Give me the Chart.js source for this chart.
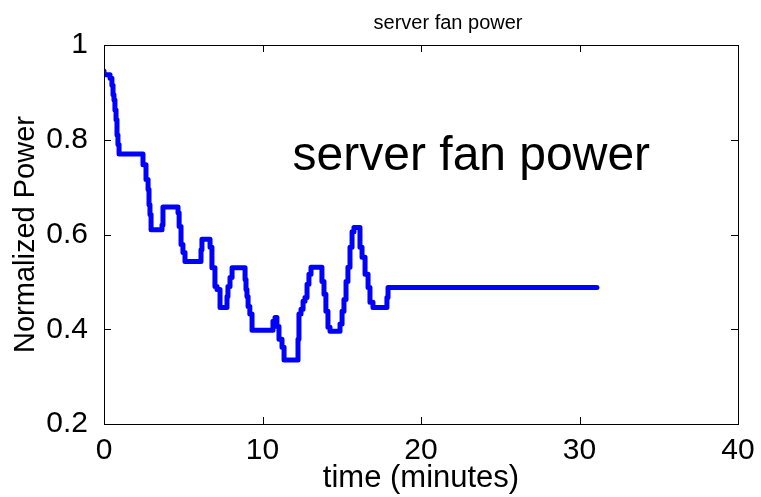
<!DOCTYPE html>
<html>
<head>
<meta charset="utf-8">
<script src="https://cdn.jsdelivr.net/npm/chart.js@4/dist/chart.umd.min.js"></script>
<style>
  html, body { margin: 0; padding: 0; background: #ffffff; }
  canvas { display: block; }
</style>
</head>
<body>
<canvas id="c" width="761" height="497"></canvas>
<script>
// ---- data ----
const chartTitle = "server fan power";
const annotationText = "server fan power";
const xAxisTitle = "time (minutes)";
const yAxisTitle = "Normalized Power";
const xTicks = [0, 10, 20, 30, 40];
const yTicks = [0.2, 0.4, 0.6, 0.8, 1];
const yTickLabels = ["0.2", "0.4", "0.6", "0.8", "1"];

const timeMinutes = [
  0, 0.38, 0.5, 0.57, 0.63, 0.69, 0.76, 0.82, 0.88, 0.95, 1.01,
  2.46, 2.65, 2.78, 2.84, 2.9, 2.97, 3.09,
  3.66, 3.72, 3.85,
  4.67, 4.74, 4.86, 4.98, 5.11, 5.24,
  6.12, 6.18, 6.31,
  6.69, 6.81, 7.0, 7.13, 7.32, 7.44,
  7.76, 7.82, 7.95, 8.08, 8.2,
  8.9, 8.96, 9.02, 9.09, 9.2, 9.34, 9.4,
  10.66, 10.79, 10.91, 11.04, 11.23, 11.36, 11.55,
  12.24, 12.3, 12.43, 12.56, 12.68, 12.81, 12.93, 13.06, 13.19,
  13.75, 13.88, 14.0, 14.13, 14.26, 14.38,
  14.89, 15.02, 15.14, 15.27, 15.39, 15.52, 15.65, 15.77, 15.9,
  16.15, 16.28, 16.47, 16.66, 16.78, 16.97, 17.1,
  17.85, 17.92, 18.04,
  25, 31.1
];
const normalizedPower = [
  0.945, 0.937, 0.93, 0.915, 0.895, 0.884, 0.863, 0.842, 0.81, 0.79, 0.77,
  0.77, 0.747, 0.716, 0.695, 0.663, 0.642, 0.61,
  0.61, 0.62, 0.658,
  0.658, 0.646, 0.617, 0.579, 0.562, 0.543,
  0.543, 0.568, 0.59,
  0.59, 0.573, 0.53, 0.49, 0.484, 0.446,
  0.446, 0.469, 0.49, 0.509, 0.53,
  0.53, 0.505, 0.484, 0.469, 0.448, 0.432, 0.398,
  0.398, 0.417, 0.425, 0.406, 0.379, 0.362, 0.335,
  0.335, 0.379, 0.432, 0.442, 0.459, 0.467, 0.495, 0.516, 0.531,
  0.531, 0.501, 0.474, 0.438, 0.404, 0.396,
  0.396, 0.411, 0.438, 0.463, 0.501, 0.531, 0.573, 0.606, 0.615,
  0.615, 0.573, 0.552, 0.516, 0.488, 0.457, 0.446,
  0.446, 0.467, 0.488,
  0.488, 0.488
];
// position of the in-plot text label (data units)
const annotationX = 11.9;
const annotationY = 0.765;

// ---- chart ----
const FONT = '"Liberation Sans", Arial, Helvetica, sans-serif';

const frameAndTexts = {
  id: 'frameAndTexts',
  afterDraw(chart) {
    const {ctx, chartArea: a, scales: {x, y}} = chart;
    ctx.save();
    ctx.strokeStyle = '#000';
    ctx.lineWidth = 1;
    ctx.beginPath();
    const L = 7;
    xTicks.forEach(v => {
      const px = Math.round(x.getPixelForValue(v)) + 0.5;
      ctx.moveTo(px, a.bottom); ctx.lineTo(px, a.bottom - L);
      ctx.moveTo(px, a.top); ctx.lineTo(px, a.top + L);
    });
    yTicks.forEach(v => {
      const py = Math.round(y.getPixelForValue(v)) + 0.5;
      ctx.moveTo(a.left, py); ctx.lineTo(a.left + L, py);
      ctx.moveTo(a.right, py); ctx.lineTo(a.right - L, py);
    });
    ctx.stroke();
    ctx.strokeRect(Math.round(a.left) + 0.5, Math.round(a.top) + 0.5,
                   Math.round(a.right - a.left), Math.round(a.bottom - a.top));
    // chart title (placed as in the reference, above the plot box)
    ctx.fillStyle = '#000';
    ctx.font = '20px ' + FONT;
    ctx.textAlign = 'center';
    ctx.textBaseline = 'middle';
    ctx.fillText(chartTitle, 448, 23);
    ctx.restore();
  },
  afterDatasetsDraw(chart) {
    const {ctx, scales: {x, y}} = chart;
    ctx.save();
    ctx.fillStyle = '#000';
    ctx.font = '48px ' + FONT;
    ctx.textAlign = 'left';
    ctx.textBaseline = 'middle';
    ctx.fillText(annotationText, x.getPixelForValue(annotationX), y.getPixelForValue(annotationY));
    ctx.restore();
  }
};

new Chart(document.getElementById('c'), {
  type: 'line',
  data: {
    datasets: [{
      data: timeMinutes.map((t, i) => ({x: t, y: normalizedPower[i]})),
      borderColor: '#0000ff',
      borderWidth: 5,
      borderJoinStyle: 'round',
      borderCapStyle: 'round',
      stepped: 'after',
      pointRadius: 0,
      fill: false,
      tension: 0
    }]
  },
  options: {
    responsive: false,
    animation: false,
    layout: { padding: { left: 0, right: 23, top: 45, bottom: 0 } },
    plugins: {
      legend: { display: false },
      tooltip: { enabled: false },
      title: { display: false }
    },
    scales: {
      x: {
        type: 'linear',
        min: 0, max: 40,
        afterBuildTicks: s => { s.ticks = xTicks.map(v => ({value: v})); },
        afterFit: s => { s.height = 73; },
        grid: { display: false },
        border: { display: false },
        ticks: {
          color: '#000',
          font: { family: FONT, size: 30 },
          padding: 1,
          maxRotation: 0,
          callback: v => String(v)
        },
        title: {
          display: true,
          text: xAxisTitle,
          color: '#000',
          font: { family: FONT, size: 31 },
          padding: { top: 0, bottom: 0 }
        }
      },
      y: {
        type: 'linear',
        min: 0.2, max: 1,
        afterBuildTicks: s => { s.ticks = yTicks.map(v => ({value: v})); },
        afterFit: s => { s.width = 104; },
        grid: { display: false },
        border: { display: false },
        ticks: {
          color: '#000',
          font: { family: FONT, size: 30 },
          padding: 8,
          callback: (v) => yTickLabels[yTicks.indexOf(v)] ?? String(v)
        },
        title: {
          display: true,
          text: yAxisTitle,
          color: '#000',
          font: { family: FONT, size: 29 },
          padding: { top: 9, bottom: 0 }
        }
      }
    }
  },
  plugins: [frameAndTexts]
});
</script>
</body>
</html>
